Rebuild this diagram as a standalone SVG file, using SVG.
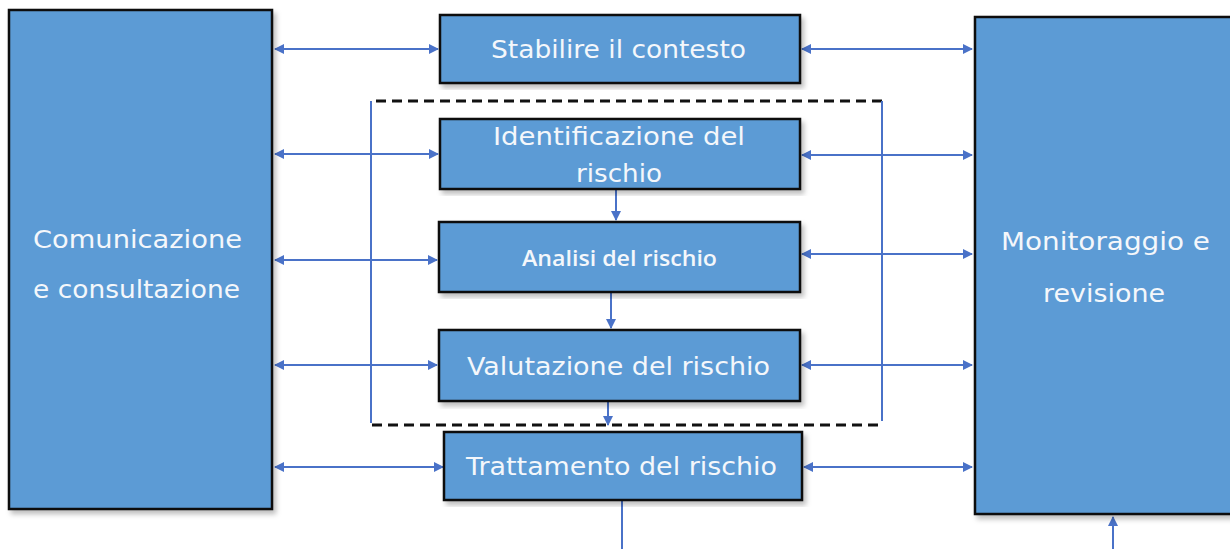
<svg xmlns="http://www.w3.org/2000/svg" width="1230" height="549" viewBox="0 0 1230 549">
<defs>
<style>
.box{fill:#5b9bd5;stroke:#111;stroke-width:2.5;filter:url(#sh)}
.t{fill:#f4f7fb;font-family:"DejaVu Sans","Liberation Sans",sans-serif;font-size:25px}
.t2{fill:#f4f7fb;font-family:"Open Sans","Liberation Sans",sans-serif;font-size:22px;font-weight:600}
.c{stroke:#4a72c8;stroke-width:2;fill:none}
.bi{marker-start:url(#ah);marker-end:url(#ah)}
.one{marker-end:url(#ah)}
.d{stroke:#111;stroke-width:3;stroke-dasharray:10 6;fill:none}
</style>
<marker id="ah" viewBox="0 0 10 10" refX="9" refY="5" markerWidth="5" markerHeight="5" orient="auto-start-reverse" markerUnits="strokeWidth">
<path d="M0,0 L10,5 L0,10 z" fill="#4a72c8"/>
</marker>
<filter id="sh" x="-5%" y="-5%" width="115%" height="115%">
<feDropShadow dx="3" dy="4" stdDeviation="2.5" flood-color="#000" flood-opacity="0.25"/>
</filter>
</defs>
<rect width="1230" height="549" fill="#fff"/>

<g id="connectors">
<path class="d" d="M376,101 H882"/>
<path class="d" d="M372,425 H882"/>
<path class="c" d="M371,101 V423"/>
<path class="c" d="M882,101 V421"/>
<path class="c bi" d="M275,49 H438"/>
<path class="c bi" d="M275,154 H438"/>
<path class="c bi" d="M275,260 H437"/>
<path class="c bi" d="M275,365 H437"/>
<path class="c bi" d="M275,467 H443"/>
<path class="c bi" d="M802,49 H972"/>
<path class="c bi" d="M802,155 H972"/>
<path class="c bi" d="M802,254 H972"/>
<path class="c bi" d="M802,365 H972"/>
<path class="c bi" d="M804,467 H972"/>
<path class="c one" d="M616,190 V220"/>
<path class="c one" d="M611,293 V328"/>
<path class="c one" d="M608,402 V425"/>
<path class="c" d="M622,501 V549"/>
<path class="c one" d="M1113,549 V517"/>
</g>

<g id="comunicazione">
<rect class="box" x="9" y="10" width="263" height="499"/>
<text class="t" x="33" y="248" textLength="209" lengthAdjust="spacingAndGlyphs">Comunicazione</text>
<text class="t" x="33" y="298" textLength="207" lengthAdjust="spacingAndGlyphs">e consultazione</text>
</g>

<g id="monitoraggio">
<rect class="box" x="975" y="17" width="262" height="497"/>
<text class="t" x="1001" y="250" textLength="209" lengthAdjust="spacingAndGlyphs">Monitoraggio e</text>
<text class="t" x="1043" y="302" textLength="122" lengthAdjust="spacingAndGlyphs">revisione</text>
</g>

<g id="stabilire">
<rect class="box" x="440" y="15" width="360" height="68"/>
<text class="t" x="491" y="58" textLength="255" lengthAdjust="spacingAndGlyphs">Stabilire il contesto</text>
</g>

<g id="identificazione">
<rect class="box" x="440" y="119" width="360" height="70"/>
<text class="t" x="493" y="145" textLength="252" lengthAdjust="spacingAndGlyphs">Identificazione del</text>
<text class="t" x="576" y="182" textLength="86" lengthAdjust="spacingAndGlyphs">rischio</text>
</g>

<g id="analisi">
<rect class="box" x="439" y="222" width="361" height="70"/>
<text class="t2" x="522" y="266" textLength="195" lengthAdjust="spacingAndGlyphs">Analisi del rischio</text>
</g>

<g id="valutazione">
<rect class="box" x="439" y="330" width="361" height="71"/>
<text class="t" x="467" y="375" textLength="303" lengthAdjust="spacingAndGlyphs">Valutazione del rischio</text>
</g>

<g id="trattamento">
<rect class="box" x="444" y="432" width="358" height="68"/>
<text class="t" x="466" y="475" textLength="311" lengthAdjust="spacingAndGlyphs">Trattamento del rischio</text>
</g>
</svg>
